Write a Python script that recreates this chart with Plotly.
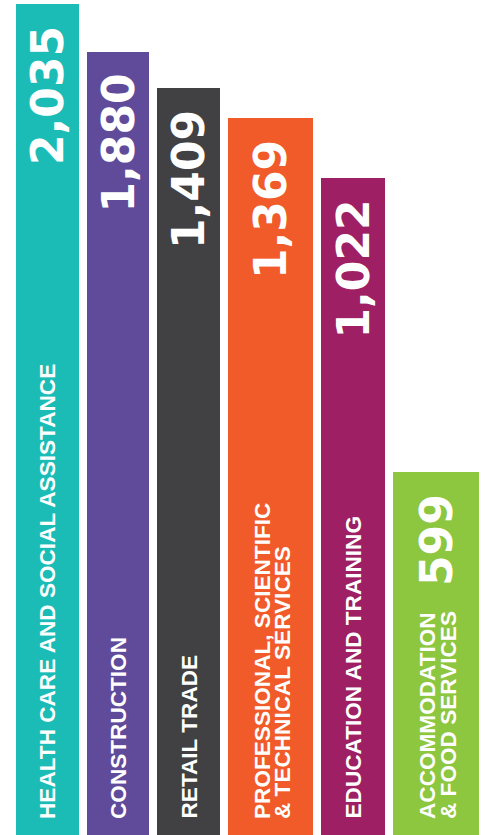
import plotly.graph_objects as go

# data read from the infographic
categories = ["HEALTH CARE AND SOCIAL ASSISTANCE", "CONSTRUCTION", "RETAIL TRADE",
              "PROFESSIONAL, SCIENTIFIC<br>& TECHNICAL SERVICES", "EDUCATION AND TRAINING",
              "ACCOMMODATION<br>& FOOD SERVICES"]
values = [2035, 1880, 1409, 1369, 1022, 599]
# drawn bar lengths (the graphic is not to scale)
bar_lengths = [831, 783, 747, 717, 657, 363]

colors = ["#1bbcb6", "#604b9b", "#414042", "#f15a29", "#9e1f63", "#8dc63f"]
bar_widths = [63, 62, 63, 85, 64, 86]
GAP = 8
LEFT = 16
W, H = 487, 835

# centres of the bars along the x axis
centres = []
pos = LEFT
for w in bar_widths:
    centres.append(pos + w / 2)
    pos += w + GAP

fig = go.Figure(go.Bar(x=centres, y=bar_lengths, width=bar_widths,
                       marker=dict(color=colors, line=dict(width=0)),
                       hoverinfo="skip"))

annotations = []
for cx, length, val, cat in zip(centres, bar_lengths, values, categories):
    annotations.append(dict(x=cx, y=length, xref="x", yref="y", text=f"{val:,}",
                            textangle=-90, showarrow=False, xanchor="center", yanchor="top",
                            yshift=-20,
                            font=dict(family="DejaVu Sans", size=44, color="white", weight="bold")))
    lines = cat.split("<br>")
    if len(lines) == 1:
        shifts = [0]
    else:
        shifts = [-8.5, 12]
    for line, dx in zip(lines, shifts):
        annotations.append(dict(x=cx, y=0, xref="x", yref="y", text=line, textangle=-90,
                                showarrow=False, xanchor="center", yanchor="bottom",
                                xshift=dx, yshift=14,
                                font=dict(family="Liberation Sans", size=22.6, color="white",
                                          weight="bold")))

fig.update_layout(width=W, height=H, margin=dict(l=0, r=0, t=0, b=0),
                  plot_bgcolor="white", paper_bgcolor="white", showlegend=False,
                  bargap=0, annotations=annotations,
                  xaxis=dict(range=[0, W], visible=False, fixedrange=True),
                  yaxis=dict(range=[0, H], visible=False, fixedrange=True))

fig.write_html("out.html", config={"displayModeBar": False},
               post_script="document.body.style.margin = '0';")
